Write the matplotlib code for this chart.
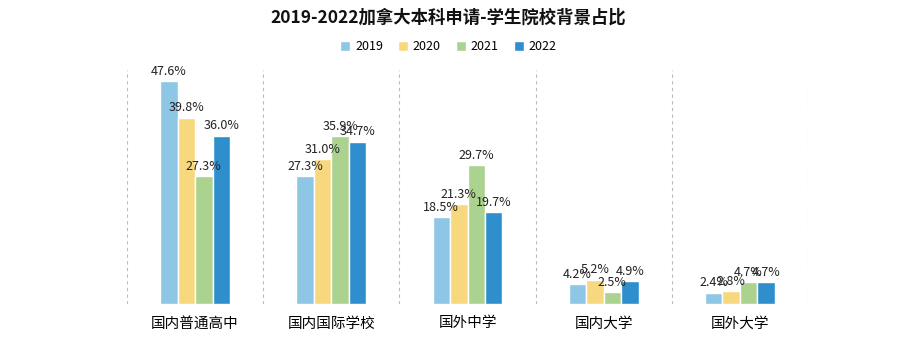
import matplotlib
matplotlib.use("Agg")
import matplotlib.pyplot as plt
import numpy as np

plt.rcParams['font.family'] = ['Noto Sans CJK SC', 'DejaVu Sans']

categories = ['国内普通高中', '国内国际学校', '国外中学', '国内大学', '国外大学']
years = ['2019', '2020', '2021', '2022']
v2019 = [47.6, 27.3, 18.5, 4.2, 2.4]
v2020 = [39.8, 31.0, 21.3, 5.2, 2.8]
v2021 = [27.3, 35.9, 29.7, 2.5, 4.7]
v2022 = [36.0, 34.7, 19.7, 4.9, 4.7]
series = [v2019, v2020, v2021, v2022]
colors = ['#8EC6E6', '#F8D87E', '#ABD28E', '#2F8FCD']

W, H = 897, 339
fig = plt.figure(figsize=(W/100, H/100), dpi=100)
ax = fig.add_axes([127/W, (339-304)/H, (808-127)/W, (304-70)/H])

x = np.arange(len(categories))
bw = 0.128
for i, (vals, c, y) in enumerate(zip(series, colors, years)):
    pos = x + (i - 1.5) * bw
    ax.bar(pos, vals, width=bw, color=c, edgecolor='white', linewidth=1.0, label=y)
    for p, v in zip(pos, vals):
        ax.text(p, v + 0.7, f'{v:.1f}%', ha='center', va='bottom', fontsize=9, color='#222222')

ax.set_xlim(-0.5, 4.5)
ax.set_ylim(0, 50)
for s in ax.spines.values():
    s.set_visible(False)
ax.set_yticks([])
ax.set_xticks(x)
ax.set_xticklabels(categories, fontsize=10.5)
ax.tick_params(axis='x', length=0, pad=9)
for b in np.arange(-0.5, 5.0, 1.0):
    ax.axvline(b, color='#BBBBBB', linestyle=(0, (3, 3)), linewidth=0.8, ymin=0.0, ymax=1.0)

fig.text(0.5, 1 - 18/H, '2019-2022加拿大本科申请-学生院校背景占比', ha='center', va='center',
         fontsize=12.5, fontweight='bold', color='#111111')
fig.legend(loc='center', bbox_to_anchor=(0.5, 1 - 47/H), ncol=4, frameon=False,
           fontsize=9, handlelength=0.8, handleheight=0.8, columnspacing=1.2, handletextpad=0.4)

fig.savefig('out.png', dpi=100, facecolor='white')
